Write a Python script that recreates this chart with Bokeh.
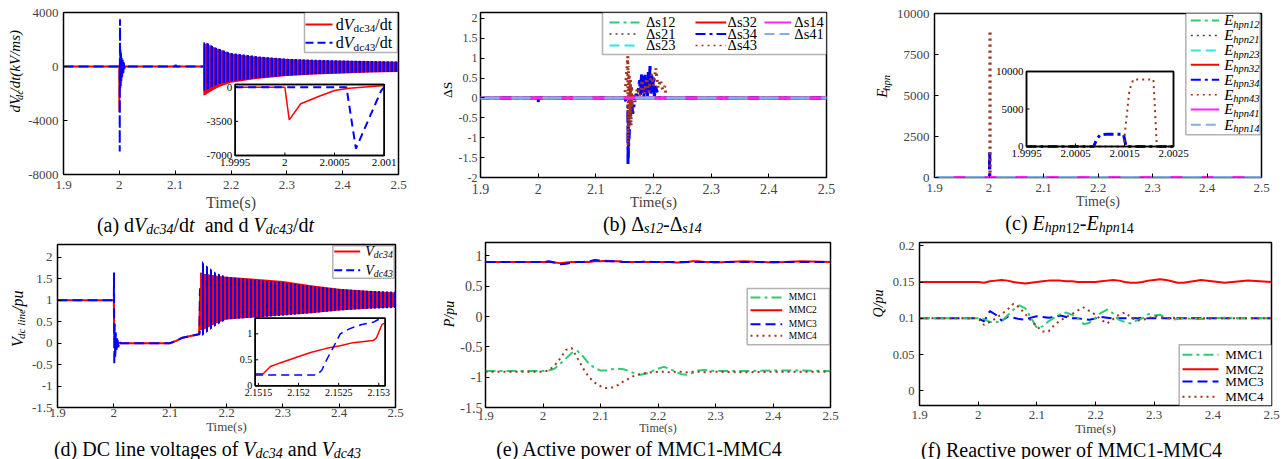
import math
from bokeh.plotting import figure
from bokeh.models import Range1d, FixedTicker, Label, BoxAnnotation, Arrow
from bokeh.layouts import column, row
from bokeh.core.properties import value
from bokeh.embed import file_html
from bokeh.resources import INLINE

# ======================= DATA =======================
x_ticks = [1.9, 2.0, 2.1, 2.2, 2.3, 2.4, 2.5]
x_tick_labels = ["1.9", "2", "2.1", "2.2", "2.3", "2.4", "2.5"]

# (a) dVdc/dt  (kV/ms)
dv34_pre_t = [1.9]
dv34_pre = [0]
dv34_zoom_t = [1.9995, 2.0, 2.000044, 2.00016, 2.000345, 2.0005, 2.00065, 2.001]
dv34_zoom = [0, 0, -3350, -1700, -920, -340, -100, 170]
dv34_post_t = [2.002, 2.003, 2.004, 2.006, 2.008, 2.010, 2.100, 2.101, 2.102, 2.1505]
dv34_post = [-600, 400, -300, 150, -80, 0, 0, 80, 0, 0]
dv43_pre_t = [1.9]
dv43_pre = [0]
dv43_zoom_t = [1.9995, 2.00062, 2.000715, 2.00097, 2.001]
dv43_zoom = [0, 0, -6300, -340, 0]
dv43_post_t = [2.0012, 2.0016, 2.002, 2.0025, 2.003, 2.0035, 2.004, 2.005, 2.006, 2.007,
               2.008, 2.009, 2.010, 2.012, 2.100, 2.101, 2.102, 2.1505]
dv43_post = [3500, -1700, 1200, -1500, 1000, -1100, 800, -800, 500, -500,
             300, -200, 100, 0, 0, 120, 0, 0]
dv_band_t = [2.1505, 2.155, 2.16, 2.17, 2.18, 2.20, 2.25, 2.30, 2.35, 2.40, 2.45, 2.50]
dv43_hi = [1800, 1780, 1700, 1450, 1300, 1000, 750, 580, 500, 440, 400, 370]
dv43_lo = [-1800, -1750, -1650, -1450, -1300, -1100, -850, -680, -580, -500, -430, -380]
dv34_hi = [1650, 1700, 1600, 1400, 1250, 950, 700, 550, 470, 420, 380, 350]
dv34_lo = [-2150, -2100, -1950, -1700, -1500, -1200, -900, -700, -600, -520, -450, -400]

# (b) Delta s
ds_flat_t = [1.9, 2.5]
ds12 = [0, 0]
ds21 = [0, 0]
ds23 = [0, 0]
ds32 = [0, 0]
ds14 = [0, 0]
ds41 = [0, 0]
ds34_t = [1.9, 1.9998, 2.0001, 2.0004, 2.15, 2.1555, 2.1558, 2.1561, 2.1564, 2.1567, 2.157,
          2.158, 2.160, 2.162, 2.164, 2.166, 2.168, 2.170, 2.172, 2.176, 2.1775, 2.179, 2.1805,
          2.182, 2.1835, 2.185, 2.1865, 2.188, 2.1895, 2.191, 2.1925, 2.194, 2.1955, 2.197,
          2.1985, 2.200, 2.2015, 2.203, 2.21, 2.5]
ds34 = [0, 0, -0.12, 0, 0, -0.2, -1.7, -0.3, -1.5, -0.5, -1.2,
        -0.9, -0.3, -0.1, -0.4, -0.2, 0.0, 0.1, 0.05, 0.45, 0.05, 0.6, 0.1,
        0.55, 0.0, 0.6, 0.15, 0.5, 0.05, 0.65, 0.2, 0.85, 0.1, 0.6,
        0.15, 0.55, 0.0, 0.3, 0.0, 0]
ds43_t = [1.9, 2.15, 2.1555, 2.156, 2.1565, 2.157, 2.158, 2.159, 2.160, 2.161, 2.162, 2.163,
          2.165, 2.168, 2.172, 2.176, 2.180, 2.184, 2.188, 2.192, 2.196, 2.200, 2.204, 2.208,
          2.212, 2.216, 2.220, 2.222, 2.5]
ds43 = [0, 0, 1.05, -1.2, 0.8, -0.85, 0.6, -0.5, 0.45, -0.7, 0.3, -0.2,
        0.1, -0.1, 0.25, 0.05, 0.45, 0.1, 0.5, 0.15, 0.6, 0.3, 0.75, 0.25,
        0.45, 0.2, 0.3, 0, 0]

# (c) E_hpn
e_flat_t = [1.9, 2.5]
e12 = [0, 0]
e21 = [0, 0]
e23 = [0, 0]
e32 = [0, 0]
e41 = [0, 0]
e14 = [0, 0]
e34_t = [1.9, 1.9995, 2.00087, 2.00093, 2.0010, 2.00115, 2.00148, 2.00153, 2.0025, 2.5]
e34 = [0, 0, 0, 900, 1550, 1650, 1650, 0, 0, 0]
e43_t = [1.9, 1.9995, 2.00148, 2.00160, 2.00168, 2.00209, 2.00216, 2.0025, 2.5]
e43 = [0, 0, 0, 7500, 8950, 8950, 0, 0, 0]

# (d) DC line voltages (pu)
vdc34_pre_t = [1.90, 2.000, 2.0003, 2.0008, 2.0015, 2.0025, 2.0035, 2.005, 2.007, 2.009,
               2.012, 2.100, 2.110, 2.120, 2.130, 2.140, 2.150]
vdc34_pre = [1.0, 1.0, 0.6, 0.1, 0.15, -0.1, 0.08, -0.05, 0.03, 0.0,
             0.0, 0.0, 0.05, 0.12, 0.15, 0.18, 0.21]
vdc34_zoom_t = [2.15146, 2.15156, 2.15165, 2.15177, 2.15194, 2.15215, 2.15235, 2.15252,
                2.15268, 2.15293, 2.15297, 2.15304, 2.15308]
vdc34_zoom = [0.23, 0.23, 0.37, 0.44, 0.53, 0.64, 0.72, 0.77, 0.83, 0.87, 0.92, 1.18, 1.21]
vdc43_pre_t = [1.90, 2.000, 2.0003, 2.0008, 2.0015, 2.0025, 2.0035, 2.005, 2.006, 2.008,
               2.010, 2.012, 2.100, 2.110, 2.120, 2.130, 2.140, 2.150]
vdc43_pre = [1.0, 1.0, 1.65, -0.5, 0.45, -0.35, 0.25, -0.2, 0.15, -0.1,
             0.05, 0.0, 0.0, 0.05, 0.12, 0.15, 0.18, 0.20]
vdc43_zoom_t = [2.15146, 2.15223, 2.15229, 2.15235, 2.15243, 2.15252, 2.15264, 2.15279,
                2.15293, 2.15300]
vdc43_zoom = [0.21, 0.21, 0.30, 0.50, 0.73, 1.00, 1.10, 1.18, 1.22, 1.28]
vdc_band_t = [2.1531, 2.155, 2.16, 2.17, 2.18, 2.20, 2.25, 2.30, 2.35, 2.40, 2.45, 2.50]
vdc43_hi = [2.05, 1.95, 1.85, 1.75, 1.65, 1.55, 1.48, 1.42, 1.33, 1.26, 1.22, 1.20]
vdc43_lo = [0.15, 0.15, 0.20, 0.30, 0.40, 0.55, 0.60, 0.64, 0.70, 0.76, 0.80, 0.82]
vdc34_hi = [1.65, 1.65, 1.62, 1.60, 1.58, 1.55, 1.50, 1.45, 1.35, 1.27, 1.22, 1.18]
vdc34_lo = [0.30, 0.30, 0.32, 0.38, 0.45, 0.55, 0.60, 0.65, 0.70, 0.76, 0.80, 0.84]

# (e) active power (pu)
p_t = [1.90, 1.95, 2.00, 2.01, 2.02, 2.03, 2.04, 2.05, 2.06, 2.07, 2.08, 2.09, 2.10, 2.11,
       2.12, 2.13, 2.14, 2.15, 2.16, 2.17, 2.18, 2.19, 2.20, 2.21, 2.22, 2.23, 2.24, 2.25,
       2.26, 2.27, 2.28, 2.29, 2.30, 2.35, 2.40, 2.45, 2.50]
p_mmc1 = [-0.90, -0.90, -0.90, -0.89, -0.86, -0.78, -0.69, -0.60, -0.57, -0.66, -0.78, -0.85,
          -0.89, -0.89, -0.87, -0.86, -0.87, -0.90, -0.94, -0.96, -0.94, -0.90, -0.86, -0.83,
          -0.86, -0.91, -0.95, -0.96, -0.93, -0.89, -0.88, -0.89, -0.90, -0.90, -0.89, -0.89, -0.90]
p_mmc2 = [0.90, 0.90, 0.90, 0.90, 0.89, 0.88, 0.89, 0.90, 0.90, 0.90, 0.90, 0.91, 0.91, 0.92,
          0.91, 0.91, 0.90, 0.90, 0.90, 0.90, 0.90, 0.90, 0.90, 0.90, 0.90, 0.89, 0.89, 0.90,
          0.91, 0.91, 0.90, 0.90, 0.89, 0.91, 0.89, 0.91, 0.90]
p_mmc3 = [0.90, 0.90, 0.90, 0.91, 0.89, 0.86, 0.87, 0.89, 0.90, 0.90, 0.91, 0.93, 0.92, 0.91,
          0.91, 0.91, 0.90, 0.90, 0.90, 0.90, 0.91, 0.90, 0.90, 0.90, 0.90, 0.90, 0.90, 0.90,
          0.90, 0.90, 0.90, 0.90, 0.90, 0.90, 0.90, 0.90, 0.90]
p_mmc4 = [-0.91, -0.91, -0.91, -0.89, -0.81, -0.69, -0.55, -0.52, -0.69, -0.86, -1.00, -1.09,
          -1.15, -1.18, -1.17, -1.13, -1.07, -1.02, -0.97, -0.95, -0.93, -0.92, -0.91, -0.91,
          -0.92, -0.91, -0.91, -0.92, -0.91, -0.91, -0.92, -0.91, -0.91, -0.92, -0.91, -0.91, -0.91]

# (f) reactive power (pu)
q_t = [1.90, 1.95, 2.00, 2.01, 2.02, 2.03, 2.04, 2.05, 2.06, 2.07, 2.08, 2.09, 2.10, 2.11,
       2.12, 2.13, 2.14, 2.15, 2.16, 2.17, 2.18, 2.19, 2.20, 2.21, 2.22, 2.23, 2.24, 2.25,
       2.26, 2.27, 2.28, 2.29, 2.30, 2.31, 2.32, 2.33, 2.34, 2.35, 2.38, 2.42, 2.46, 2.50]
q_mmc1 = [0.100, 0.100, 0.100, 0.099, 0.095, 0.095, 0.096, 0.104, 0.112, 0.118, 0.114, 0.101,
          0.087, 0.089, 0.096, 0.101, 0.106, 0.108, 0.105, 0.100, 0.092, 0.094, 0.101, 0.108,
          0.112, 0.107, 0.098, 0.095, 0.093, 0.097, 0.100, 0.106, 0.104, 0.105, 0.101, 0.098,
          0.099, 0.100, 0.099, 0.101, 0.100, 0.100]
q_mmc2 = [0.150, 0.150, 0.150, 0.149, 0.151, 0.152, 0.153, 0.152, 0.150, 0.149, 0.148, 0.149,
          0.150, 0.151, 0.152, 0.152, 0.152, 0.151, 0.151, 0.150, 0.150, 0.150, 0.150, 0.151,
          0.152, 0.153, 0.152, 0.150, 0.149, 0.149, 0.150, 0.152, 0.153, 0.154, 0.153, 0.151,
          0.149, 0.149, 0.153, 0.149, 0.152, 0.150]
q_mmc3 = [0.100, 0.100, 0.100, 0.096, 0.110, 0.105, 0.097, 0.102, 0.101, 0.099, 0.098, 0.101,
          0.103, 0.102, 0.101, 0.102, 0.104, 0.102, 0.100, 0.100, 0.099, 0.098, 0.100, 0.102,
          0.101, 0.100, 0.100, 0.100, 0.100, 0.100, 0.101, 0.100, 0.100, 0.100, 0.100, 0.100,
          0.100, 0.100, 0.100, 0.100, 0.100, 0.100]
q_mmc4 = [0.100, 0.100, 0.100, 0.091, 0.095, 0.100, 0.106, 0.112, 0.120, 0.115, 0.106, 0.097,
          0.089, 0.082, 0.082, 0.091, 0.097, 0.102, 0.106, 0.111, 0.115, 0.110, 0.105, 0.098,
          0.093, 0.099, 0.105, 0.108, 0.102, 0.097, 0.098, 0.100, 0.103, 0.102, 0.100, 0.101,
          0.100, 0.100, 0.100, 0.100, 0.100, 0.100]

# ======================= STYLE =======================
FONT = "Liberation Serif"
RED = "#ff0000"
BLUE = "#0000ff"
GREEN = "#2ecc71"
BROWN = "#a0341c"
CYAN = "#2ee6e6"
MAGENTA = "#ff22ff"
LIGHTBLUE = "#7fb0e8"
DARK = "#444444"
DASH = "10 5"
DASHDOT = "10 4 3 4"
DOT = "2 4"

REG = {" ": 250, "(": 333, ")": 333, "-": 333, ".": 250, "/": 278, "A": 722, "C": 667,
       "D": 722, "E": 611, "M": 889, "P": 556, "Q": 722, "R": 667, "S": 556, "T": 611,
       "V": 722, "a": 444, "b": 500, "c": 444, "d": 500, "e": 444, "f": 333, "g": 500,
       "h": 500, "i": 278, "k": 500, "l": 278, "m": 778, "n": 500, "o": 500, "p": 500,
       "r": 333, "s": 389, "t": 278, "u": 500, "v": 500, "w": 722, "y": 500, "\u0394": 617}
ITA = {" ": 250, "(": 333, ")": 333, "-": 333, "/": 278, "E": 611, "P": 611, "Q": 722,
       "V": 611, "S": 500, "c": 444, "d": 500, "e": 444, "h": 500, "i": 278, "k": 444,
       "l": 278, "m": 722, "n": 500, "p": 500, "s": 389, "t": 278, "u": 500}
SUBF = 0.7
SUBSH = 0.15
MID = 0.3375  # em-box middle above the baseline
R, I = False, True


def text_width(s, italic, size):
    tbl = ITA if italic else REG
    return sum(tbl.get(ch, 500) for ch in s) * size / 1000.0


def rich(p, x, y, pieces, size, angle=0.0, align="left", color="black", glyph=False):
    """x, y: start (or centre) of the baseline in px of the frame (y up)."""
    items = []
    for txt, it, sub in pieces:
        s = size * SUBF if sub else size
        items.append((txt, it, sub, s, text_width(txt, it, s)))
    total = sum(i[4] for i in items)
    pos = -total / 2.0 if align == "center" else 0.0
    for txt, it, sub, s, w in items:
        stripped = txt.lstrip(" ")
        lead = text_width(txt[:len(txt) - len(stripped)], it, s)
        core = stripped.rstrip(" ")
        if core:
            perp = MID * s - (size * SUBSH if sub else 0.0)
            style = "italic" if it else "normal"
            if glyph:
                along = pos + lead
                if angle == 0:
                    lx, ly = x + along, y + perp
                else:
                    lx, ly = x - perp, y + along
                p.text(x=[lx], y=[ly], text=[core], angle=angle, text_align="left",
                       text_baseline="middle", text_font=value(FONT),
                       text_font_size=value(f"{s:.1f}px"), text_font_style=value(style),
                       text_color=color)
            else:
                along = pos + lead + text_width(core, it, s) / 2.0
                if angle == 0:
                    lx, ly = x + along, y + perp
                else:
                    lx, ly = x - perp, y + along
                p.add_layout(Label(x=lx, y=ly, x_units="screen", y_units="screen", text=core,
                                   angle=angle, text_font=FONT, text_font_size=f"{s:.1f}px",
                                   text_font_style=style, text_align="center",
                                   text_baseline="middle", text_color=color))
        pos += w


def blank(w, h):
    f = figure(width=w, height=h, min_border_left=0, min_border_right=0, min_border_top=0,
               min_border_bottom=0, x_range=Range1d(0, w), y_range=Range1d(0, h),
               x_axis_location=None, y_axis_location=None,
               output_backend="svg", toolbar_location=None, tools="")
    f.grid.visible = False
    f.outline_line_color = None
    f.background_fill_color = "white"
    f.border_fill_color = "white"
    return f


def make_fig(g):
    p = figure(frame_width=g["fw"], frame_height=g["fh"],
               min_border_left=g["bl"], min_border_right=g["br"],
               min_border_top=g["bt"], min_border_bottom=g["bb"],
               x_range=Range1d(*g["xr"]), y_range=Range1d(*g["yr"]),
               output_backend="svg", toolbar_location=None, tools="")
    p.grid.visible = False
    p.outline_line_color = "black"
    p.outline_line_width = 1.5
    p.background_fill_color = "white"
    p.border_fill_color = "white"
    specs = [(p.xaxis[0], x_ticks, x_tick_labels, g["xfs"], g["xso"]),
             (p.yaxis[0], g["yt"], g["ytl"], g["yfs"], g.get("yso", 5))]
    for ax, ticks, labels, fs, so in specs:
        ax.ticker = FixedTicker(ticks=ticks)
        ax.major_label_overrides = dict(zip(ticks, labels))
        ax.axis_line_color = None
        ax.major_tick_in = 4
        ax.major_tick_out = 0
        ax.minor_tick_line_color = None
        ax.major_label_text_font = FONT
        ax.major_label_text_font_size = fs
        ax.major_label_standoff = so
    xa = p.xaxis[0]
    xa.axis_label = "Time(s)"
    xa.axis_label_text_font = FONT
    xa.axis_label_text_font_style = "normal"
    xa.axis_label_text_font_size = g["tfs"]
    xa.axis_label_standoff = g["tso"]
    return p


def rel(g, X, Y):
    return X - g["L"], g["T"] + g["fh"] - Y


def legend(p, g, box, rows):
    x0, y0 = rel(g, box[0], box[1])
    x1, y1 = rel(g, box[2], box[3])
    p.add_layout(BoxAnnotation(left=x0, right=x1, top=y0, bottom=y1,
                               left_units="screen", right_units="screen",
                               top_units="screen", bottom_units="screen",
                               fill_color="white", fill_alpha=1.0,
                               line_color="black", line_width=1.5))
    for sx0, sx1, tx, Y, color, width, dash, pieces, size in rows:
        a, yy = rel(g, sx0, Y)
        b, _ = rel(g, sx1, Y)
        p.add_layout(Arrow(end=None, x_start=a, y_start=yy, x_end=b, y_end=yy,
                           start_units="screen", end_units="screen",
                           line_color=color, line_width=width, line_dash=dash))
        t, _ = rel(g, tx, Y)
        rich(p, t, yy - 0.33 * size, pieces, size)


def inset(p, g, rect, xs, ys):
    X0, Y0, X1, Y1 = rect
    xr, yr = g["xr"], g["yr"]
    tx0 = xr[0] + (X0 - g["L"]) / g["fw"] * (xr[1] - xr[0])
    tx1 = xr[0] + (X1 - g["L"]) / g["fw"] * (xr[1] - xr[0])
    ty1 = yr[1] - (Y0 - g["T"]) / g["fh"] * (yr[1] - yr[0])
    ty0 = yr[1] - (Y1 - g["T"]) / g["fh"] * (yr[1] - yr[0])
    xy = p.subplot(x_source=Range1d(*xs), y_source=Range1d(*ys),
                   x_target=Range1d(tx0, tx1), y_target=Range1d(ty0, ty1))
    xy.quad(left=[xs[0]], right=[xs[1]], bottom=[ys[0]], top=[ys[1]],
            fill_color="white", line_color="black", line_width=1.5)
    return xy


def inset_axes(xy, xs, ys, xt, xl, yt, yl, fs):
    xy.ray(x=xt, y=[ys[0]] * len(xt), length=3, length_units="screen",
           angle=math.pi / 2, line_color="black", line_width=1)
    xy.ray(x=[xs[0]] * len(yt), y=yt, length=3, length_units="screen",
           angle=0, line_color="black", line_width=1)
    xy.text(x=xt, y=[ys[0]] * len(xt), text=xl, text_align="center", text_baseline="top",
            y_offset=3, text_font=value(FONT), text_font_size=value(fs))
    xy.text(x=[xs[0]] * len(yt), y=yt, text=yl, text_align="right", text_baseline="middle",
            x_offset=-3, text_font=value(FONT), text_font_size=value(fs))
    xy.quad(left=[xs[0]], right=[xs[1]], bottom=[ys[0]], top=[ys[1]],
            fill_color=None, line_color="black", line_width=1.5)


def panel(g, main, ylab_pieces, ylab_size, ylab_x, ylab_cy, cap_pieces, cap_size, cap_cx, cap_base):
    mh = g["bt"] + g["fh"] + g["bb"]
    strip = blank(g["sw"], mh)
    rich(strip, ylab_x - g["X0"], g["Y0"] + mh - ylab_cy, ylab_pieces, ylab_size,
         angle=math.pi / 2, align="center", glyph=True)
    cap = blank(g["cw"], g["ch"])
    rich(cap, cap_cx - g["X0"], g["Y0"] + mh + g["ch"] - cap_base, cap_pieces, cap_size,
         align="center")
    return column(row(strip, main), cap)


# ======================= GEOMETRY (reference pixel positions) =======================
GA = dict(X0=0, Y0=0, sw=25, cw=438, ch=25, L=61, T=12, fw=335, fh=162, bl=36, br=42, bt=12, bb=37,
          xr=(1.9, 2.5), yr=(-8000, 4000), yt=[-8000, -4000, 0, 4000],
          ytl=["-8000", "-4000", "0", "4000"], xfs="13px", yfs="13px", xso=6, tfs="16px", tso=2)
GB = dict(X0=438, Y0=0, sw=15, cw=422, ch=25, L=476, T=12, fw=346, fh=165, bl=23, br=38, bt=12, bb=34,
          xr=(1.9, 2.5), yr=(-2.0, 2.15), yt=[-2, -1.5, -1, -0.5, 0, 0.5, 1, 1.5, 2],
          ytl=["-2", "-1.5", "-1", "-0.5", "0", "0.5", "1", "1.5", "2"],
          xfs="14px", yfs="12px", xso=6, yso=3, tfs="15px", tso=-3)
GC = dict(X0=860, Y0=0, sw=29, cw=426, ch=25, L=927, T=13, fw=327, fh=164, bl=38, br=32, bt=13, bb=34,
          xr=(1.9, 2.5), yr=(0, 10000), yt=[0, 2500, 5000, 7500, 10000],
          ytl=["0", "2500", "5000", "7500", "10000"], xfs="13px", yfs="13px", xso=6,
          tfs="14px", tso=-1)
GD = dict(X0=0, Y0=236, sw=28, cw=438, ch=24, L=54, T=242, fw=338, fh=163, bl=26, br=46, bt=6, bb=30,
          xr=(1.9, 2.5), yr=(-1.5, 2.3), yt=[-1.5, -1, -0.5, 0, 0.5, 1, 1.5, 2],
          ytl=["-1.5", "-1", "-0.5", "0", "0.5", "1", "1.5", "2"],
          xfs="13px", yfs="13px", xso=1, tfs="13px", tso=-1)
GE = dict(X0=438, Y0=236, sw=16, cw=422, ch=24, L=480, T=240, fw=345, fh=165, bl=26, br=35, bt=4, bb=30,
          xr=(1.9, 2.5), yr=(-1.5, 1.22), yt=[-1.5, -1, -0.5, 0, 0.5, 1],
          ytl=["-1.5", "-1", "-0.5", "0", "0.5", "1"], xfs="13px", yfs="14px", xso=4, yso=3,
          tfs="12px", tso=-2)
GF = dict(X0=860, Y0=236, sw=24, cw=426, ch=24, L=911, T=240, fw=352, fh=163, bl=27, br=23, bt=4, bb=32,
          xr=(1.9, 2.5), yr=(-0.02, 0.2045), yt=[0, 0.05, 0.1, 0.15, 0.2],
          ytl=["0", "0.05", "0.1", "0.15", "0.2"], xfs="13px", yfs="12.5px", xso=5,
          tfs="13px", tso=-1)

# ======================= (a) =======================
pa = make_fig(GA)
pa.line(dv34_pre_t + dv34_zoom_t + dv34_post_t, dv34_pre + dv34_zoom + dv34_post,
        line_color=RED, line_width=2)
pa.line(dv43_pre_t + dv43_zoom_t + dv43_post_t, dv43_pre + dv43_zoom + dv43_post,
        line_color=BLUE, line_width=2, line_dash=DASH)
pa.varea(x=dv_band_t, y1=dv34_lo, y2=dv34_hi, fill_color=RED)
pa.varea(x=dv_band_t, y1=dv43_lo, y2=dv43_hi, fill_alpha=0, hatch_pattern="vertical_line",
         hatch_color=BLUE, hatch_weight=3, hatch_scale=4)
xa = inset(pa, GA, (232.7, 84, 381.7, 155), (1.9995, 2.001), (-7000, 280))
xa.line(dv34_zoom_t, dv34_zoom, line_color=RED, line_width=1.5)
xa.line(dv43_zoom_t, dv43_zoom, line_color=BLUE, line_width=2, line_dash="8 5")
inset_axes(xa, (1.9995, 2.001), (-7000, 280), [1.9995, 2.0, 2.0005, 2.001],
           ["1.9995", "2", "2.0005", "2.001"], [0, -3500, -7000], ["0", "-3500", "-7000"], "11px")
legend(pa, GA, (302, 12, 395, 52), [
    (303, 330, 333.3, 24, RED, 2, "solid", [("d", R, False), ("V", I, False), ("dc34", R, True), ("/dt", R, False)], 16),
    (303, 330, 333.3, 42.3, BLUE, 2, "8 4", [("d", R, False), ("V", I, False), ("dc43", R, True), ("/dt", R, False)], 16),
])
col_a = panel(GA, pa, [("dV", I, False), ("dc", I, True), ("/dt(kV/ms)", I, False)], 15, 20, 87.5,
              [("(a) d", R, False), ("V", I, False), ("dc34", I, True), ("/d", R, False), ("t", I, False),
               ("  and  d", R, False), ("V", I, False), ("dc43", I, True), ("/d", R, False), ("t", I, False)],
              20, 205, 229)

# ======================= (b) =======================
pb = make_fig(GB)
pb.line(ds_flat_t, ds12, line_color=GREEN, line_width=3, line_dash=DASHDOT)
pb.line(ds_flat_t, ds21, line_color=DARK, line_width=3, line_dash=DOT)
pb.line(ds_flat_t, ds23, line_color=CYAN, line_width=3, line_dash=DASH)
pb.line(ds_flat_t, ds32, line_color=RED, line_width=3)
pb.line(ds34_t, ds34, line_color=BLUE, line_width=3, line_dash=DASHDOT)
pb.line(ds43_t, ds43, line_color=BROWN, line_width=3, line_dash=DOT)
pb.line(ds_flat_t, ds14, line_color=MAGENTA, line_width=3)
pb.line(ds_flat_t, ds41, line_color=LIGHTBLUE, line_width=3, line_dash="19 12")
legend(pb, GB, (598, 12, 822, 54), [
    (605, 635, 641.7, 22, GREEN, 2, DASHDOT, [("\u0394s12", R, False)], 14.5),
    (605, 635, 641.7, 33.5, DARK, 1.5, DOT, [("\u0394s21", R, False)], 14.5),
    (605, 635, 641.7, 45, CYAN, 2, DASH, [("\u0394s23", R, False)], 14.5),
    (691, 721.7, 723.3, 22, RED, 2, "solid", [("\u0394s32", R, False)], 14.5),
    (691, 721.7, 723.3, 33.5, BLUE, 2, DASHDOT, [("\u0394s34", R, False)], 14.5),
    (691, 721.7, 723.3, 45, BROWN, 1.5, DOT, [("\u0394s43", R, False)], 14.5),
    (760, 786.7, 790, 22, MAGENTA, 2, "solid", [("\u0394s14", R, False)], 14.5),
    (760, 786.7, 790, 33.5, LIGHTBLUE, 2, DASH, [("\u0394s41", R, False)], 14.5),
])
col_b = panel(GB, pb, [("\u0394S", R, False)], 13.5, 450, 102,
              [("(b) \u0394", R, False), ("s12", I, True), ("-\u0394", R, False), ("s14", I, True)],
              20, 650, 229)

# ======================= (c) =======================
pc = make_fig(GC)
pc.line(e_flat_t, e12, line_color=GREEN, line_width=3, line_dash=DASHDOT)
pc.line(e_flat_t, e21, line_color=DARK, line_width=3, line_dash=DOT)
pc.line(e_flat_t, e23, line_color=CYAN, line_width=3, line_dash=DASH)
pc.line(e_flat_t, e32, line_color=RED, line_width=3)
pc.line(e34_t, e34, line_color=BLUE, line_width=3, line_dash=DASHDOT)
pc.line(e43_t, e43, line_color=BROWN, line_width=3, line_dash=DOT)
pc.line(e_flat_t, e41, line_color=MAGENTA, line_width=3)
pc.line(e_flat_t, e14, line_color=LIGHTBLUE, line_width=3, line_dash="19 12")
xc = inset(pc, GC, (1019, 71, 1166, 146), (1.9995, 2.0025), (0, 10000))
xc.line(e34_t[1:-1], e34[1:-1], line_color=BLUE, line_width=3, line_dash=DASHDOT)
xc.line(e43_t[1:-1], e43[1:-1], line_color=BROWN, line_width=2, line_dash=DOT)
inset_axes(xc, (1.9995, 2.0025), (0, 10000), [1.9995, 2.0005, 2.0015, 2.0025],
           ["1.9995", "2.0005", "2.0015", "2.0025"], [0, 5000, 10000], ["0", "5000", "10000"], "11px")
crow = [("12", GREEN, 2, DASHDOT), ("21", DARK, 1.5, DOT), ("23", CYAN, 2, DASH),
        ("32", RED, 2, "solid"), ("34", BLUE, 2, DASHDOT), ("43", BROWN, 1.5, DOT),
        ("41", MAGENTA, 2, "solid"), ("14", LIGHTBLUE, 2, DASH)]
cys = [20, 35, 50, 64.3, 79.3, 94.3, 109, 124.3]
legend(pc, GC, (1178.3, 11.7, 1252.7, 134.3), [
    (1183.3, 1211.7, 1216.7, yy, col, w, dsh, [("E", I, False), ("hpn" + k, I, True)], 15)
    for (k, col, w, dsh), yy in zip(crow, cys)
])
col_c = panel(GC, pc, [("E", I, False), ("hpn", I, True)], 15, 883, 96,
              [("(c) ", R, False), ("E", I, False), ("hpn", I, True), ("12", R, True), ("-", R, False),
               ("E", I, False), ("hpn", I, True), ("14", R, True)], 20, 1065, 229)

# ======================= (d) =======================
pd_ = make_fig(GD)
pd_.line(vdc34_pre_t + vdc34_zoom_t, vdc34_pre + vdc34_zoom, line_color=RED, line_width=2)
pd_.line(vdc43_pre_t + vdc43_zoom_t, vdc43_pre + vdc43_zoom, line_color=BLUE, line_width=2,
         line_dash=DASH)
pd_.varea(x=vdc_band_t, y1=vdc34_lo, y2=vdc34_hi, fill_color=RED)
pd_.varea(x=vdc_band_t, y1=vdc43_lo, y2=vdc43_hi, fill_alpha=0, hatch_pattern="vertical_line",
          hatch_color=BLUE, hatch_weight=2, hatch_scale=4)
xd = inset(pd_, GD, (251.7, 315.7, 381.7, 383.3), (2.15146, 2.15308), (0, 1.3))
xd.line(vdc34_zoom_t, vdc34_zoom, line_color=RED, line_width=1.5)
xd.line(vdc43_zoom_t, vdc43_zoom, line_color=BLUE, line_width=1.5, line_dash="8 5")
inset_axes(xd, (2.15146, 2.15308), (0, 1.3), [2.1515, 2.152, 2.1525, 2.153],
           ["2.1515", "2.152", "2.1525", "2.153"], [0, 0.5, 1], ["0", "0.5", "1"], "10px")
legend(pd_, GD, (329.3, 243.3, 390.7, 275.7), [
    (330.7, 356.7, 361.7, 249, RED, 2, "solid", [("V", I, False), ("dc34", I, True)], 14),
    (330.7, 356.7, 361.7, 267.7, BLUE, 2, "8 4", [("V", I, False), ("dc43", I, True)], 14),
])
col_d = panel(GD, pd_, [("V", I, False), ("dc line", I, True), (" /pu", I, False)], 16, 22, 329,
              [("(d) DC line voltages of ", R, False), ("V", I, False), ("dc34", I, True),
               (" and ", R, False), ("V", I, False), ("dc43", I, True)], 20, 207, 453)

# ======================= (e) =======================
pe = make_fig(GE)
pe.line(p_t, p_mmc2, line_color=RED, line_width=2)
pe.line(p_t, p_mmc3, line_color=BLUE, line_width=2, line_dash=DASH)
pe.line(p_t, p_mmc1, line_color=GREEN, line_width=2, line_dash=DASHDOT)
pe.line(p_t, p_mmc4, line_color=BROWN, line_width=2, line_dash=DOT)
erow = [("MMC1", GREEN, DASHDOT, 295), ("MMC2", RED, "solid", 307.7),
        ("MMC3", BLUE, DASH, 321.7), ("MMC4", BROWN, DOT, 333.3)]
legend(pe, GE, (741.7, 286, 824, 342.3), [
    (745, 776.7, 783.3, yy, col, 2, dsh, [(nm, R, False)], 9.5) for nm, col, dsh, yy in erow
])
col_e = panel(GE, pe, [("P/pu", I, False)], 14, 450.75, 325,
              [("(e) Active power of MMC1-MMC4", R, False)], 20, 636, 453)

# ======================= (f) =======================
pf = make_fig(GF)
pf.line(q_t, q_mmc2, line_color=RED, line_width=2)
pf.line(q_t, q_mmc3, line_color=BLUE, line_width=2, line_dash=DASH)
pf.line(q_t, q_mmc1, line_color=GREEN, line_width=2, line_dash=DASHDOT)
pf.line(q_t, q_mmc4, line_color=BROWN, line_width=2, line_dash=DOT)
frow = [("MMC1", GREEN, DASHDOT, 352.3), ("MMC2", RED, "solid", 366.7),
        ("MMC3", BLUE, DASH, 379), ("MMC4", BROWN, DOT, 394.3)]
legend(pf, GF, (1170.7, 342.3, 1263.3, 403.3), [
    (1174, 1210, 1216.7, yy, col, 2, dsh, [(nm, R, False)], 13) for nm, col, dsh, yy in frow
])
col_f = panel(GF, pf, [("Q/pu", I, False)], 14, 878, 314,
              [("(f) Reactive power of MMC1-MMC4", R, False)], 20, 1066, 453)

layout = column(row(col_a, col_b, col_c), row(col_d, col_e, col_f))
open("out.html", "w").write(file_html(layout, INLINE))
